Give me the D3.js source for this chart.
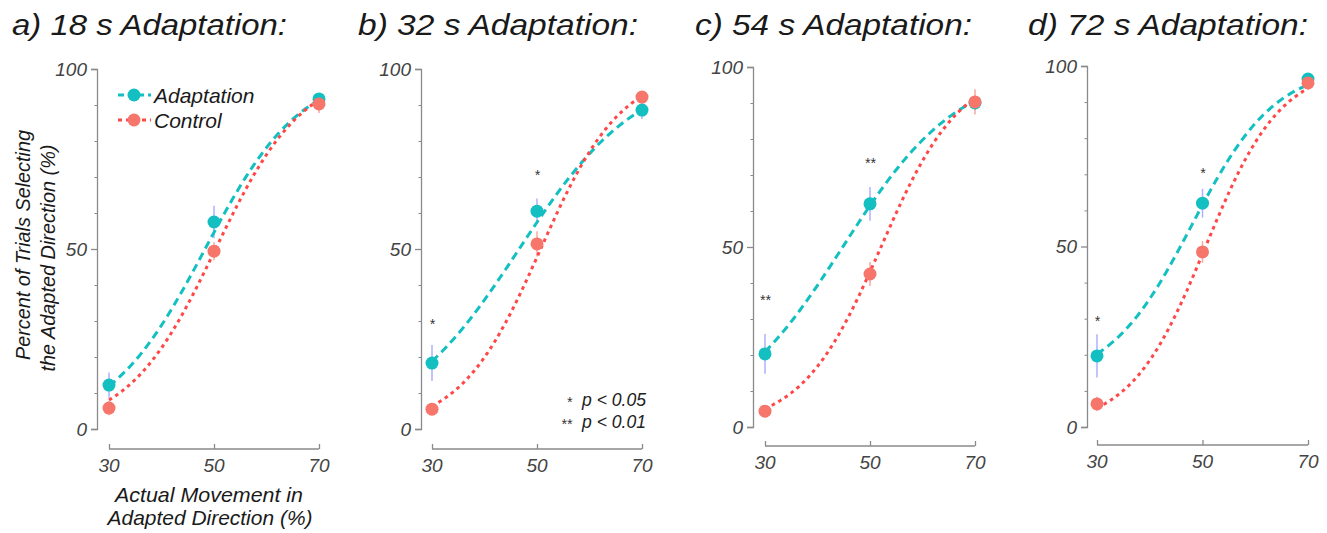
<!DOCTYPE html>
<html>
<head>
<meta charset="utf-8">
<script src="https://cdn.jsdelivr.net/npm/d3@7"></script>
<style>
  html, body { margin: 0; padding: 0; background: #fff; }
  svg text { font-family: "Liberation Sans", "Roboto", sans-serif; font-style: italic; font-weight: 400; }
</style>
</head>
<body>
<svg id="chart" width="1327" height="533"></svg>
<script>
// ---------- DATA ----------
const movement = [30, 50, 70];                      // x categories (% actual movement)
const yTicks = [0, 50, 100];
const yMinorTicks = [10, 20, 30, 40, 60, 70, 80, 90];
const titles = ["a) 18 s Adaptation:", "b) 32 s Adaptation:", "c) 54 s Adaptation:", "d) 72 s Adaptation:"];

const adapt18 = [12.2, 57.5, 91.7];
const control18 = [5.8, 49.4, 90.3];
const adapt32 = [18.3, 60.5, 88.6];
const control32 = [5.5, 51.4, 92.2];
const adapt54 = [20.3, 62.0, 90.0];
const control54 = [4.4, 42.5, 90.3];
const adapt72 = [19.7, 62.0, 96.4];
const control72 = [6.4, 48.5, 95.3];

const adaptErr18 = [3.5, 4.5, 1.5];
const controlErr18 = [2.0, 2.5, 2.5];
const adaptErr32 = [5.0, 3.5, 2.5];
const controlErr32 = [1.5, 3.5, 1.5];
const adaptErr54 = [5.5, 4.7, 2.0];
const controlErr54 = [1.5, 3.3, 3.5];
const adaptErr72 = [6.0, 4.0, 1.0];
const controlErr72 = [2.0, 3.0, 1.5];

// psychometric fits: [floor, midpoint, slope]
const adaptFit18 = [0, 48.3, 0.109];
const controlFit18 = [0, 50.3, 0.120];
const adaptFit32 = [0, 46.6, 0.088];
const controlFit32 = [0, 50.7, 0.130];
const adaptFit54 = [0, 44.8, 0.090];
const controlFit54 = [0, 52.1, 0.132];
const adaptFit72 = [12, 48.0, 0.126];
const controlFit72 = [0, 50.6, 0.140];

// significance markers: [x, y-position, label]
const sig18 = [];
const sig32 = [[30, 29.7, "*"], [50, 71, "*"]];
const sig54 = [[30, 35.8, "**"], [50, 74, "**"]];
const sig72 = [[30, 30, "*"], [50, 71, "*"]];

const seriesNames = ["Adaptation", "Control"];
const pLegend = [["*", "p < 0.05"], ["**", "p < 0.01"]];
const yTitle = ["Percent of Trials Selecting", "the Adapted Direction (%)"];
const xTitle = ["Actual Movement in", "Adapted Direction (%)"];

// ---------- LAYOUT ----------
const panels = [
  {title: titles[0], titleX: 12, titleW: 275, ax: 97, y0: 429, y100: 69, xAxisY: 449, x30: 109, x70: 319,
   adapt: adapt18, control: control18, aErr: adaptErr18, cErr: controlErr18, aFit: adaptFit18, cFit: controlFit18, sig: sig18},
  {title: titles[1], titleX: 358, titleW: 280, ax: 421, y0: 429, y100: 69, xAxisY: 449, x30: 432, x70: 642,
   adapt: adapt32, control: control32, aErr: adaptErr32, cErr: controlErr32, aFit: adaptFit32, cFit: controlFit32, sig: sig32},
  {title: titles[2], titleX: 695, titleW: 277, ax: 753, y0: 427, y100: 67, xAxisY: 446, x30: 765, x70: 975,
   adapt: adapt54, control: control54, aErr: adaptErr54, cErr: controlErr54, aFit: adaptFit54, cFit: controlFit54, sig: sig54},
  {title: titles[3], titleX: 1028, titleW: 280, ax: 1087, y0: 427, y100: 66, xAxisY: 445, x30: 1097, x70: 1308,
   adapt: adapt72, control: control72, aErr: adaptErr72, cErr: controlErr72, aFit: adaptFit72, cFit: controlFit72, sig: sig72}
];

const teal = "#13bfc0";
const salmon = "#f6766b";
const red = "#ff4747";
const teaErr = "#aeb0ff";
const salErr = "#f7a9a0";
const axisCol = "#8a8a8a";
const ff = "'Liberation Sans', Roboto, sans-serif";

const svg = d3.select("#chart");

function fitFn(p) {
  const [floor, mu, s] = p;
  return x => floor + (100 - floor) / (1 + Math.exp(-s * (x - mu)));
}

panels.forEach((P, i) => {
  const g = svg.append("g");
  const x = d3.scaleLinear().domain([30, 70]).range([P.x30, P.x70]);
  const y = d3.scaleLinear().domain([0, 100]).range([P.y0, P.y100]);

  // title
  g.append("text").attr("x", P.titleX).attr("y", 35)
    .attr("font-size", 29).attr("fill", "#1a1a1a")
    .attr("textLength", P.titleW).attr("lengthAdjust", "spacingAndGlyphs").text(P.title);

  // y axis (major)
  const yAx = g.append("g").attr("transform", `translate(${P.ax},0)`)
    .call(d3.axisLeft(y).tickValues(yTicks).tickSize(6).tickPadding(4).tickFormat(d3.format("d")));
  yAx.select(".domain").attr("stroke", axisCol).attr("stroke-width", 1.3);
  yAx.selectAll(".tick line").attr("stroke", axisCol).attr("stroke-width", 1.3);
  yAx.selectAll(".tick text").attr("font-size", 19).attr("fill", "#444")
    .attr("font-family", ff).attr("font-style", "italic");
  // y axis minor
  const yMin = g.append("g").attr("transform", `translate(${P.ax},0)`)
    .call(d3.axisLeft(y).tickValues(yMinorTicks).tickSize(2.5).tickFormat(""));
  yMin.select(".domain").remove();
  yMin.selectAll(".tick line").attr("stroke", axisCol).attr("stroke-width", 1);

  // x axis (ticks pointing up)
  const xAx = g.append("g").attr("transform", `translate(0,${P.xAxisY})`)
    .call(d3.axisTop(x).tickValues(movement).tickSize(5).tickFormat(""));
  xAx.select(".domain").attr("stroke", axisCol).attr("stroke-width", 1.3).attr("d", `M${P.x30},0H${P.x70}`);
  xAx.selectAll(".tick line").attr("stroke", axisCol).attr("stroke-width", 1.3);
  g.selectAll(".xlab").data(movement).enter().append("text")
    .attr("x", d => x(d)).attr("y", P.xAxisY + 23).attr("text-anchor", "middle")
    .attr("font-size", 19).attr("fill", "#444").text(d => d);

  // error bars
  const eb = (vals, errs, col) => {
    g.selectAll(null).data(movement).enter().append("line")
      .attr("x1", d => x(d)).attr("x2", d => x(d))
      .attr("y1", (d, k) => y(vals[k] - errs[k])).attr("y2", (d, k) => y(vals[k] + errs[k]))
      .attr("stroke", col).attr("stroke-width", 1.5);
  };
  eb(P.adapt, P.aErr, teaErr);
  eb(P.control, P.cErr, salErr);

  // fitted curves
  const xs = d3.range(30, 70.01, 0.5);
  const line = d3.line().x(d => x(d[0])).y(d => y(d[1]));
  const fa = fitFn(P.aFit), fc = fitFn(P.cFit);
  g.append("path").datum(xs.map(v => [v, fa(v)])).attr("d", line)
    .attr("fill", "none").attr("stroke", teal).attr("stroke-width", 3).attr("stroke-dasharray", "8,5");
  g.append("path").datum(xs.map(v => [v, fc(v)])).attr("d", line)
    .attr("fill", "none").attr("stroke", red).attr("stroke-width", 3).attr("stroke-dasharray", "3.5,4");

  // points
  g.selectAll(null).data(movement).enter().append("circle")
    .attr("cx", d => x(d)).attr("cy", (d, k) => y(P.adapt[k])).attr("r", 6.5).attr("fill", teal);
  g.selectAll(null).data(movement).enter().append("circle")
    .attr("cx", d => x(d)).attr("cy", (d, k) => y(P.control[k])).attr("r", 6.5).attr("fill", salmon);

  // significance
  g.selectAll(null).data(P.sig).enter().append("text")
    .attr("x", d => x(d[0])).attr("y", d => y(d[1]) + 7).attr("text-anchor", "middle")
    .attr("font-size", 14).attr("fill", "#333").attr("font-style", "normal").text(d => d[2]);

  if (i === 0) {
    // legend
    const lg = g.append("g");
    const rows = [[seriesNames[0], teal, teal, "6,4", 95], [seriesNames[1], red, salmon, "4,4", 120]];
    rows.forEach(r => {
      lg.append("line").attr("x1", 118).attr("x2", 151).attr("y1", r[4]).attr("y2", r[4])
        .attr("stroke", r[1]).attr("stroke-width", 3).attr("stroke-dasharray", r[3]);
      lg.append("circle").attr("cx", 134).attr("cy", r[4]).attr("r", 6.5).attr("fill", r[2]);
      lg.append("text").attr("x", 154).attr("y", r[4] + 8).attr("font-size", 21).attr("fill", "#1a1a1a").text(r[0]);
    });
    // axis titles
    g.append("text").attr("transform", "translate(30,245) rotate(-90)").attr("text-anchor", "middle")
      .attr("font-size", 20).attr("fill", "#1a1a1a")
      .attr("textLength", 230).attr("lengthAdjust", "spacingAndGlyphs").text(yTitle[0]);
    g.append("text").attr("transform", "translate(55,258) rotate(-90)").attr("text-anchor", "middle")
      .attr("font-size", 20).attr("fill", "#1a1a1a")
      .attr("textLength", 227).attr("lengthAdjust", "spacingAndGlyphs").text(yTitle[1]);
    g.append("text").attr("x", 209).attr("y", 502).attr("text-anchor", "middle")
      .attr("font-size", 21).attr("fill", "#1a1a1a")
      .attr("textLength", 188).attr("lengthAdjust", "spacingAndGlyphs").text(xTitle[0]);
    g.append("text").attr("x", 210).attr("y", 525).attr("text-anchor", "middle")
      .attr("font-size", 21).attr("fill", "#1a1a1a")
      .attr("textLength", 205).attr("lengthAdjust", "spacingAndGlyphs").text(xTitle[1]);
  }
  if (i === 1) {
    pLegend.forEach((r, k) => {
      g.append("text").attr("x", 572).attr("y", 407 + k * 22).attr("text-anchor", "end")
        .attr("font-size", 14).attr("fill", "#333").attr("font-style", "normal").text(r[0]);
      g.append("text").attr("x", 582).attr("y", 406 + k * 22)
        .attr("font-size", 18).attr("fill", "#222")
        .attr("textLength", 64).attr("lengthAdjust", "spacingAndGlyphs").text(r[1]);
    });
  }
});
</script>
</body>
</html>
